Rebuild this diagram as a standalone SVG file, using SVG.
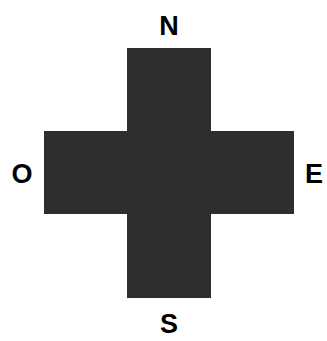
<svg xmlns="http://www.w3.org/2000/svg" width="327" height="341" viewBox="0 0 327 341">
<style>
.bar{fill:#2e2e2e}
.lbl{font-family:"Liberation Sans",Arial,sans-serif;font-weight:bold;font-size:27px;fill:#000;text-anchor:middle}
</style>
<rect width="327" height="341" fill="#fff"/>
<g id="cross">
<rect class="bar" x="127" y="48" width="84" height="250"/>
<rect class="bar" x="44" y="131" width="250" height="83"/>
</g>
<g id="labels">
<text class="lbl" x="169" y="35">N</text>
<text class="lbl" x="22" y="183">O</text>
<text class="lbl" x="314" y="183">E</text>
<text class="lbl" x="169" y="333">S</text>
</g>
</svg>
